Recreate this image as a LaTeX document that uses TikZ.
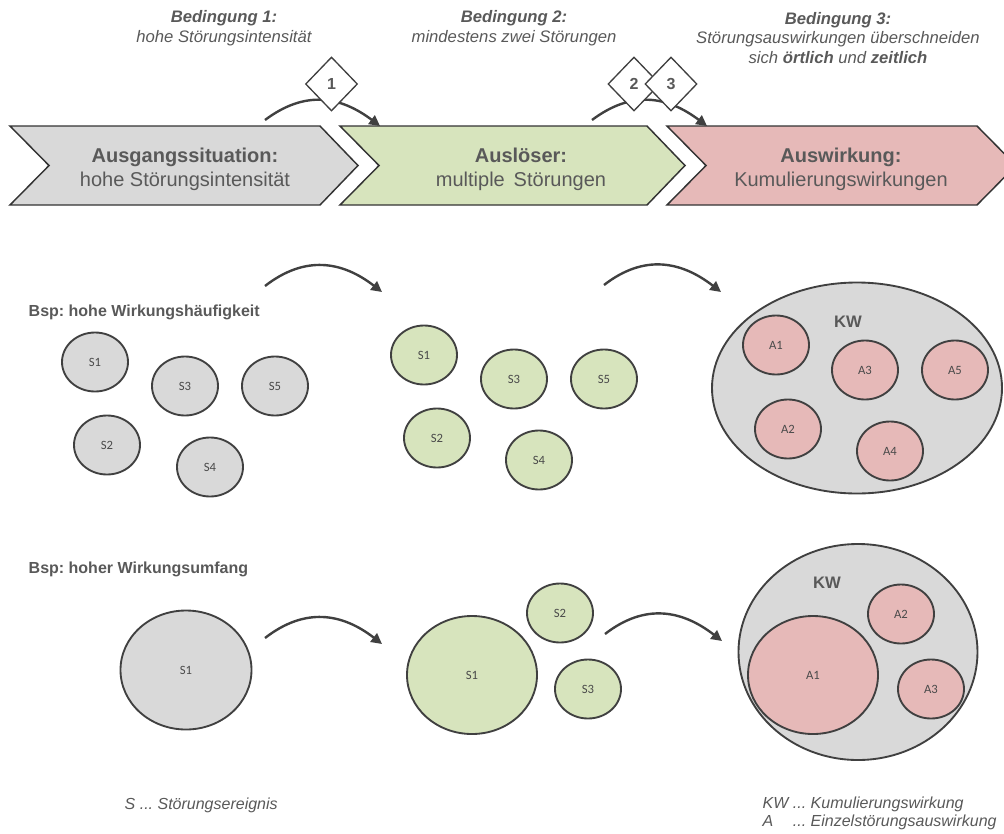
\documentclass[tikz,border=0pt]{standalone}
\usepackage{fontspec}
\setmainfont{Liberation Sans}
\newfontfamily\lblfont{Carlito}
\usetikzlibrary{shapes.geometric,arrows.meta}
\frenchspacing
\definecolor{fillgrey}{HTML}{D9D9D9}
\definecolor{fillgreen}{HTML}{D7E4BD}
\definecolor{fillpink}{HTML}{E6B9B8}
\definecolor{edge}{HTML}{404040}
\definecolor{chevedge}{HTML}{333333}
\definecolor{txt}{HTML}{595959}
\definecolor{lbl}{HTML}{4A4A4A}
\begin{document}
\begin{tikzpicture}[x=0.75pt,y=-0.75pt,
  chev/.style={draw=chevedge, line width=1.1pt},
  blob/.style={ellipse, draw=edge, line width=1.4pt, inner sep=0pt, text=lbl,
    font=\lblfont\fontsize{9.5}{11}\selectfont},
  smallblob/.style={blob, minimum width=49.5pt, minimum height=44.25pt},
  bigblob/.style={blob, minimum width=97.5pt, minimum height=88.5pt},
  grey/.style={fill=fillgrey},
  green/.style={fill=fillgreen},
  pink/.style={fill=fillpink},
  flow/.style={draw=edge, line width=1.8pt, -{Triangle[length=8pt,width=8pt]}},
  cond/.style={diamond, draw=edge, fill=white, line width=1pt, aspect=1,
    minimum width=39pt, minimum height=40.5pt, inner sep=0pt, text=txt,
    font=\fontsize{12}{14}\selectfont\bfseries},
  headtxt/.style={align=center, text=txt, font=\fontsize{12.5}{14.6}\selectfont\itshape},
  chevtxt/.style={align=center, text=txt, font=\fontsize{15}{18}\selectfont},
  bsp/.style={anchor=west, text=txt, font=\fontsize{12}{14}\selectfont\bfseries},
  kw/.style={text=txt, font=\fontsize{12.5}{14}\selectfont\bfseries},
  legend/.style={anchor=west, align=left, text=txt, font=\fontsize{12}{13.5}\selectfont\itshape}
]
\useasboundingbox (0,0) rectangle (1004,833);
\clip (0,0) rectangle (1004,833);

% process chevrons
\path[chev, fill=fillgrey]  (10,126) -- (320,126) -- (358,165.5) -- (320,205) -- (10,205) -- (49,165.5) -- cycle;
\path[chev, fill=fillgreen] (340,126) -- (647,126) -- (685,165.5) -- (647,205) -- (340,205) -- (379,165.5) -- cycle;
\path[chev, fill=fillpink]  (667,126) -- (977,126) -- (1016,165.5) -- (977,205) -- (667,205) -- (706,165.5) -- cycle;

\node[chevtxt] (c1) at (185,169) {\textbf{Ausgangssituation:}\\hohe Störungsintensität};
\node[chevtxt] (c2) at (521,169) {\textbf{Auslöser:}\\multiple\, Störungen};
\node[chevtxt] (c3) at (841,169) {\textbf{Auswirkung:}\\Kumulierungswirkungen};

% conditions
\node[headtxt] (b1) at (224,28) {\textbf{Bedingung 1:}\\hohe Störungsintensität};
\node[headtxt] (b2) at (514,28) {\textbf{Bedingung 2:}\\mindestens zwei Störungen};
\node[headtxt] (b3) at (838,38) {\textbf{Bedingung 3:}\\Störungsauswirkungen überschneiden\\sich \textbf{örtlich} und \textbf{zeitlich}};

% transition arrows between the stages
\coordinate (t1s) at (265,120); \coordinate (t1e) at (380,126);
\coordinate (t2s) at (592,120); \coordinate (t2e) at (707,126);
\draw[flow] (t1s) .. controls +(40,-30) and +(-40,-30) .. (t1e);
\draw[flow] (t2s) .. controls +(40,-30) and +(-40,-30) .. (t2e);

\node[cond] (d1) at (331.5,84) {1};
\node[cond] (d2) at (634,84) {2};
\node[cond] (d3) at (671,84) {3};

% example 1: high frequency
\node[bsp] (bsp1) at (24,312) {Bsp: hohe Wirkungshäufigkeit};

\node[smallblob, grey] (g1) at (95,362) {S1};
\node[smallblob, grey] (g3) at (185,386) {S3};
\node[smallblob, grey] (g5) at (275,386) {S5};
\node[smallblob, grey] (g2) at (107,445) {S2};
\node[smallblob, grey] (g4) at (210,467) {S4};

\node[smallblob, green] (h1) at (424,355) {S1};
\node[smallblob, green] (h3) at (514,379) {S3};
\node[smallblob, green] (h5) at (604,379) {S5};
\node[smallblob, green] (h2) at (437,438) {S2};
\node[smallblob, green] (h4) at (539,460) {S4};

\node[blob, grey, minimum width=217.5pt, minimum height=158.25pt] (kw1) at (857,388) {};
\node[kw] (kw1t) at (848,322) {KW};
\node[smallblob, pink] (p1) at (776,345) {A1};
\node[smallblob, pink] (p3) at (865,370) {A3};
\node[smallblob, pink] (p5) at (955,370) {A5};
\node[smallblob, pink] (p2) at (788,429) {A2};
\node[smallblob, pink] (p4) at (890,451) {A4};

\coordinate (r1s) at (265,286); \coordinate (r1e) at (382,292);
\coordinate (r2s) at (604,285); \coordinate (r2e) at (721,292);
\draw[flow] (r1s) .. controls +(40,-31) and +(-40,-31) .. (r1e);
\draw[flow] (r2s) .. controls +(40,-31) and +(-40,-31) .. (r2e);

% example 2: large extent
\node[bsp] (bsp2) at (24,569) {Bsp: hoher Wirkungsumfang};

\node[bigblob, grey, minimum width=98.25pt, minimum height=89.25pt] (G1) at (186,670) {S1};

\node[bigblob, green] (H1) at (472,675) {S1};
\node[smallblob, green] (H2) at (560,613) {S2};
\node[smallblob, green] (H3) at (588,689) {S3};

\node[blob, grey, minimum width=179.25pt, minimum height=162pt] (kw2) at (858,652) {};
\node[kw] (kw2t) at (827,583) {KW};
\node[bigblob, pink] (P1) at (813,675) {A1};
\node[smallblob, pink] (P2) at (901,614) {A2};
\node[smallblob, pink] (P3) at (931,689) {A3};

\coordinate (s1s) at (265,638); \coordinate (s1e) at (382,644);
\coordinate (s2s) at (605,634); \coordinate (s2e) at (722,641);
\draw[flow] (s1s) .. controls +(40,-31) and +(-40,-31) .. (s1e);
\draw[flow] (s2s) .. controls +(40,-31) and +(-40,-31) .. (s2e);

% legend
\node[legend] (legS) at (120,805) {S ... Störungsereignis};
\node[legend] (legA) at (758,814) {\begin{tabular}{@{}l@{\ }l@{}}KW & ... Kumulierungswirkung\\ A & ... Einzelstörungsauswirkung\end{tabular}};
\end{tikzpicture}
\end{document}
